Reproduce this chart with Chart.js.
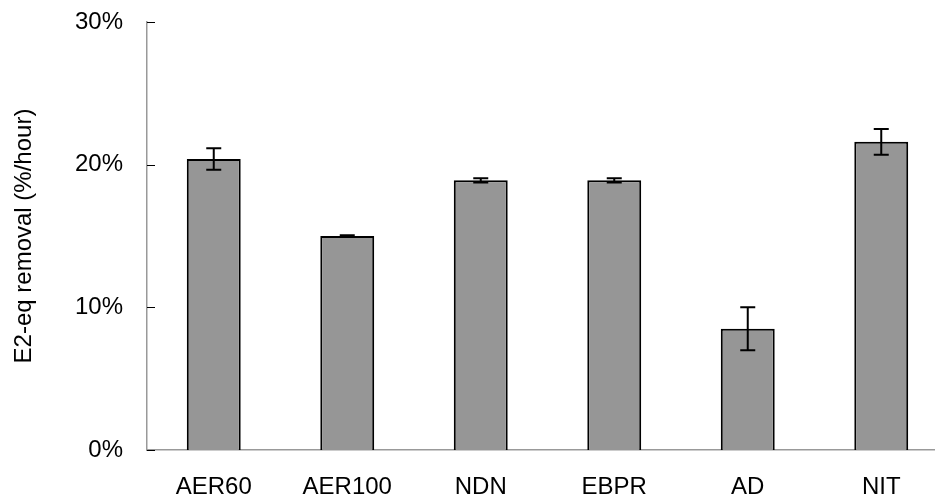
<!DOCTYPE html>
<html>
<head>
<meta charset="utf-8">
<script src="https://cdn.jsdelivr.net/npm/chart.js@4"></script>
<style>
  html, body { margin: 0; padding: 0; background: #fff; overflow: hidden; }
  .chart-container { width: 948px; height: 502px; }
</style>
</head>
<body>
<div class="chart-container"><canvas id="myChart"></canvas></div>
<script>
const labels = ['AER60', 'AER100', 'NDN', 'EBPR', 'AD', 'NIT'];
const removal = [20.4, 15.0, 18.9, 18.9, 8.5, 21.6];
const errors = [0.75, 0.05, 0.15, 0.15, 1.5, 0.9];
const yTicks = [0, 10, 20, 30];

const ctx = document.getElementById('myChart');

// error bars, drawn from the y scale
const errorBars = {
  id: 'errorBars',
  afterDatasetsDraw(chart) {
    const c = chart.ctx;
    const y = chart.scales.y;
    const meta = chart.getDatasetMeta(0);
    c.save();
    c.strokeStyle = '#000';
    c.lineWidth = 2;
    meta.data.forEach((bar, i) => {
      const top = y.getPixelForValue(removal[i] + errors[i]);
      const bottom = y.getPixelForValue(removal[i] - errors[i]);
      c.beginPath();
      c.moveTo(bar.x, top);
      c.lineTo(bar.x, bottom);
      c.moveTo(bar.x - 7.5, top);
      c.lineTo(bar.x + 7.5, top);
      c.moveTo(bar.x - 7.5, bottom);
      c.lineTo(bar.x + 7.5, bottom);
      c.stroke();
    });
    c.restore();
  }
};

// inside tick marks on the y axis
const insideTicks = {
  id: 'insideTicks',
  afterDraw(chart) {
    const c = chart.ctx;
    const y = chart.scales.y;
    const left = chart.chartArea.left;
    c.save();
    c.strokeStyle = '#000';
    c.lineWidth = 1;
    yTicks.forEach(v => {
      const py = Math.round(y.getPixelForValue(v)) + 0.5;
      c.beginPath();
      c.moveTo(left, py);
      c.lineTo(left + 8, py);
      c.stroke();
    });
    c.restore();
  }
};

const font = { family: 'Liberation Sans, Arial, sans-serif', size: 24 };

new Chart(ctx, {
  type: 'bar',
  data: {
    labels: labels,
    datasets: [{
      data: removal,
      backgroundColor: '#969696',
      borderColor: '#000',
      borderWidth: 2,
      barPercentage: 0.404,
      categoryPercentage: 1
    }]
  },
  options: {
    responsive: true,
    maintainAspectRatio: false,
    animation: false,
    layout: { padding: { top: 22, right: 0, bottom: 0, left: 0 } },
    plugins: {
      legend: { display: false },
      tooltip: { enabled: false }
    },
    scales: {
      x: {
        grid: { display: false, drawTicks: false },
        border: { color: '#999', width: 1.5 },
        ticks: {
          color: '#000',
          padding: 23,
          maxRotation: 0,
          font: font
        },
        afterFit(scale) { scale.height = 52; }
      },
      y: {
        min: 0,
        max: 30,
        grid: { display: false, drawTicks: false },
        border: { color: '#999', width: 1.5 },
        afterBuildTicks(scale) { scale.ticks = yTicks.map(v => ({ value: v })); },
        ticks: {
          color: '#000',
          padding: 24,
          callback: v => v + '%',
          font: font
        },
        title: {
          display: true,
          text: 'E2-eq removal (%/hour)',
          color: '#000',
          padding: { top: 10, bottom: 0 },
          font: font
        },
        afterFit(scale) {
          scale.width = 147;
          scale.paddingTop = 0;
          scale.paddingBottom = 0;
        }
      }
    }
  },
  plugins: [errorBars, insideTicks]
});
</script>
</body>
</html>
